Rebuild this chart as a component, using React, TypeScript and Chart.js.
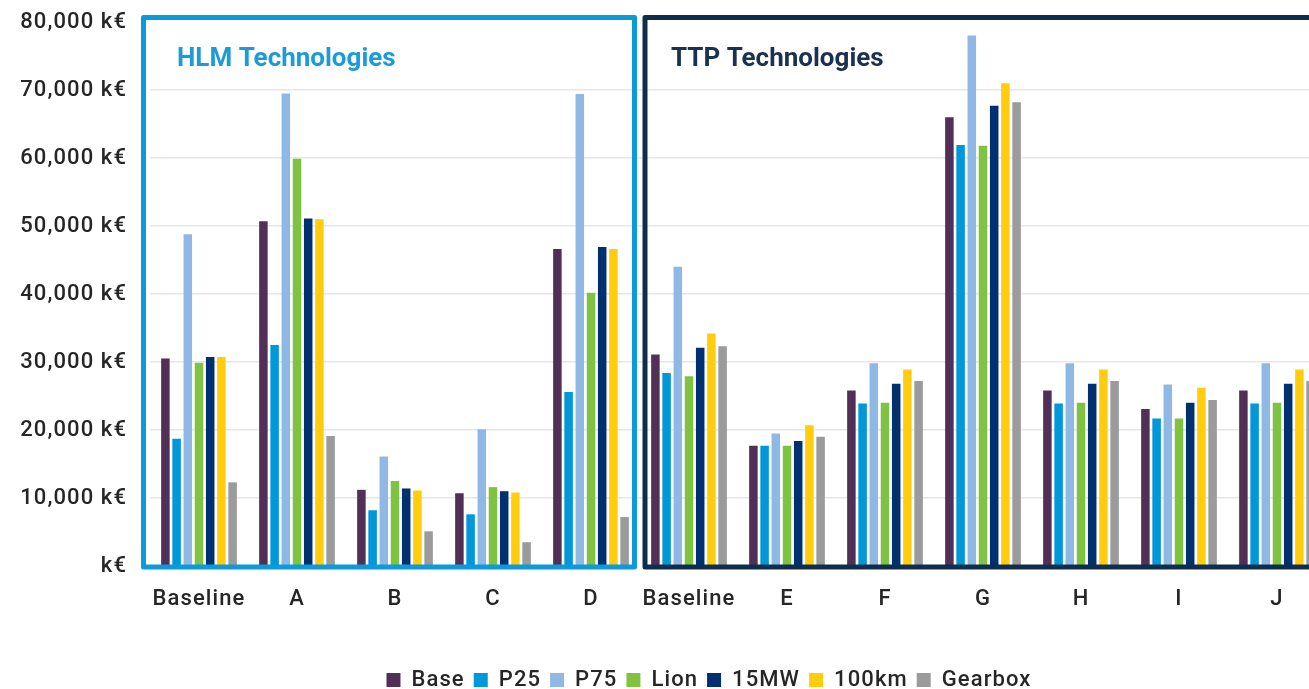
import React, { useEffect, useRef } from 'react';
import { Chart, registerables } from 'chart.js';

Chart.register(...registerables);

// ---------- data ----------
const categories = ['Baseline', 'A', 'B', 'C', 'D', 'Baseline', 'E', 'F', 'G', 'H', 'I', 'J'];
const seriesNames = ['Base', 'P25', 'P75', 'Lion', '15MW', '100km', 'Gearbox'];
const seriesColors = ['#522f57', '#0098d8', '#8fb9e4', '#80c342', '#00306f', '#ffcd0e', '#9b9b9b'];

const baseValues = [30500, 50700, 11200, 10700, 46600, 31100, 17700, 25800, 66000, 25800, 23100, 25800];
const p25Values = [18700, 32500, 8200, 7600, 25600, 28400, 17700, 23900, 61900, 23900, 21700, 23900];
const p75Values = [48800, 69500, 16100, 20100, 69400, 44000, 19500, 29800, 78000, 29800, 26700, 29800];
const lionValues = [29900, 59900, 12500, 11600, 40200, 27900, 17700, 24000, 61800, 24000, 21700, 24000];
const mw15Values = [30750, 51100, 11400, 11000, 46900, 32100, 18400, 26800, 67700, 26800, 24000, 26800];
const km100Values = [30750, 51000, 11100, 10800, 46600, 34200, 20700, 28900, 71000, 28900, 26200, 28900];
const gearboxValues = [12300, 19100, 5100, 3500, 7200, 32300, 19000, 27200, 68200, 27200, 24400, 27200];

const seriesValues = [baseValues, p25Values, p75Values, lionValues, mw15Values, km100Values, gearboxValues];

const yTickLabels = ['k€', '10,000 k€', '20,000 k€', '30,000 k€', '40,000 k€', '50,000 k€', '60,000 k€', '70,000 k€', '80,000 k€'];

const groupTitles = ['HLM Technologies', 'TTP Technologies'];
const groupStarts = [0, 5];
const groupEnds = [4, 11];

// ---------- styling ----------
const FONT = 'Roboto';
const TEXT = '#262626';
const SPACING = '1.1px';
const groupStyles = [
  { stroke: '#0d9ad9', title: '#1b9cd8', insetL: -6.5, insetR: -5.5, titleDx: 33.5 },
  { stroke: '#0f2e4d', title: '#1a324f', insetL: 5, insetR: 6, titleDx: 26 },
];

const spacingPlugin = {
  id: 'letterSpacing',
  beforeLayout(chart: any) {
    (chart.ctx as any).letterSpacing = SPACING;
  },
  beforeDraw(chart: any) {
    (chart.ctx as any).letterSpacing = SPACING;
  },
};

const boxPlugin = {
  id: 'groupBoxes',
  afterDatasetsDraw(chart: any) {
    const { ctx, scales } = chart;
    const x = scales.x;
    const y = scales.y;
    const cw = x.getPixelForValue(1) - x.getPixelForValue(0);
    const top = y.getPixelForValue(80000) - 4.5;
    const bottom = y.getPixelForValue(0) + 1;
    groupTitles.forEach((title, i) => {
      const st = groupStyles[i];
      const left = x.getPixelForValue(groupStarts[i]) - cw / 2 + st.insetL;
      const right = x.getPixelForValue(groupEnds[i]) + cw / 2 + st.insetR;
      ctx.save();
      ctx.strokeStyle = st.stroke;
      ctx.lineWidth = 5;
      ctx.lineJoin = 'round';
      ctx.strokeRect(left, top, right - left, bottom - top);
      (ctx as any).letterSpacing = '0px';
      ctx.font = `bold 26px ${FONT}`;
      ctx.fillStyle = st.title;
      ctx.textAlign = 'left';
      ctx.textBaseline = 'middle';
      ctx.fillText(title, left + st.titleDx, top + 41.5);
      ctx.restore();
    });
  },
};

export default function App() {
  const canvasRef = useRef<HTMLCanvasElement | null>(null);

  useEffect(() => {
    if (!canvasRef.current) return;
    const chart = new Chart(canvasRef.current, {
      type: 'bar',
      data: {
        labels: categories,
        datasets: seriesNames.map((name, i) => ({
          label: name,
          data: seriesValues[i],
          backgroundColor: seriesColors[i],
          borderWidth: 0,
          categoryPercentage: 0.8,
          barPercentage: 0.76,
        })),
      },
      options: {
        animation: false,
        responsive: false,
        devicePixelRatio: 1,
        events: [],
        layout: { padding: { top: 22, left: 0, right: 0, bottom: 0 } },
        plugins: {
          legend: {
            display: true,
            position: 'bottom',
            labels: {
              boxWidth: 14,
              boxHeight: 14,
              padding: 9,
              color: TEXT,
              font: { family: FONT, size: 22, weight: 500 },
            },
          },
          tooltip: { enabled: false },
          title: { display: false },
        },
        scales: {
          x: {
            grid: { display: false, drawTicks: false },
            border: { display: false },
            ticks: {
              color: TEXT,
              font: { family: FONT, size: 22, weight: 500 },
              padding: 20,
              maxRotation: 0,
              autoSkip: false,
            },
            afterFit(scale: any) {
              scale.height = 94;
              scale.paddingLeft = 0;
              scale.paddingRight = 0;
            },
          },
          y: {
            min: 0,
            max: 80000,
            grid: {
              drawTicks: false,
              lineWidth: 1.5,
              color: (c: any) => (c.tick && (c.tick.value === 0 || c.tick.value === 80000) ? 'rgba(0,0,0,0)' : '#e6e6e6'),
            },
            border: { display: false },
            ticks: {
              stepSize: 10000,
              color: TEXT,
              font: { family: FONT, size: 22, weight: 500 },
              padding: 23,
              callback: (_v: any, index: number) => yTickLabels[index],
            },
            afterFit(scale: any) {
              scale.width = 150;
              scale.paddingTop = 0;
              scale.paddingBottom = 0;
            },
          },
          yRight: {
            position: 'right',
            display: true,
            grid: { display: false, drawTicks: false },
            border: { display: false },
            ticks: { display: false },
            afterFit(scale: any) {
              scale.width = 92;
              scale.paddingTop = 0;
              scale.paddingBottom = 0;
            },
          },
        },
      },
      plugins: [spacingPlugin, boxPlugin],
    } as any);
    return () => chart.destroy();
  }, []);

  return (
    <div
      style={{
        position: 'fixed',
        left: 0,
        top: 0,
        width: 1309,
        height: 689,
        overflow: 'hidden',
        background: '#ffffff',
      }}
    >
      <canvas ref={canvasRef} width={1418} height={701} />
    </div>
  );
}
